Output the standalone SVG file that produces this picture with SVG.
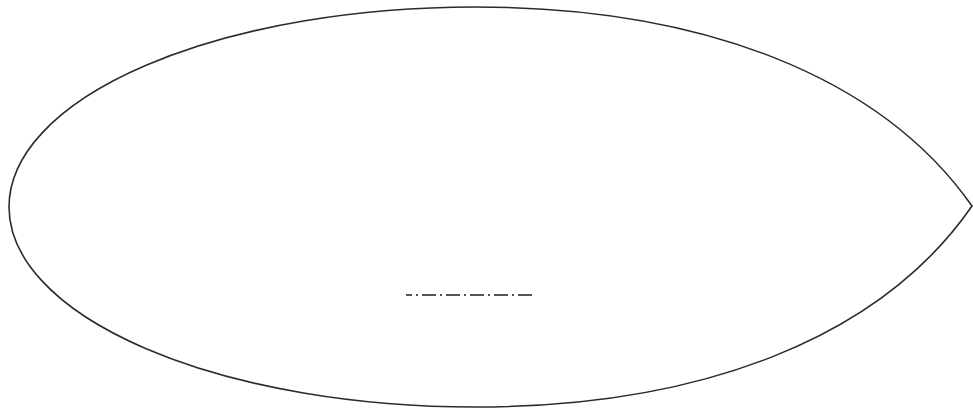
<svg xmlns="http://www.w3.org/2000/svg" width="973" height="414" viewBox="0 0 973 414">
<style>
.outline{fill:none;stroke:#2b2b2b;stroke-width:1.6}
.axis{fill:none;stroke:#555;stroke-width:2;stroke-dasharray:14 4 2 4;stroke-dashoffset:8}
</style>
<rect width="973" height="414" fill="#fff"/>
<g id="leaf">
<path class="outline" d="M475,7 C700,7 880,75 972,206 C880,339 700,407 475,407 A466,200 0 0 1 9,207 A466,200 0 0 1 475,7 Z"/>
</g>
<g id="centerline">
<line class="axis" x1="406" y1="295" x2="532" y2="295"/>
</g>
</svg>
